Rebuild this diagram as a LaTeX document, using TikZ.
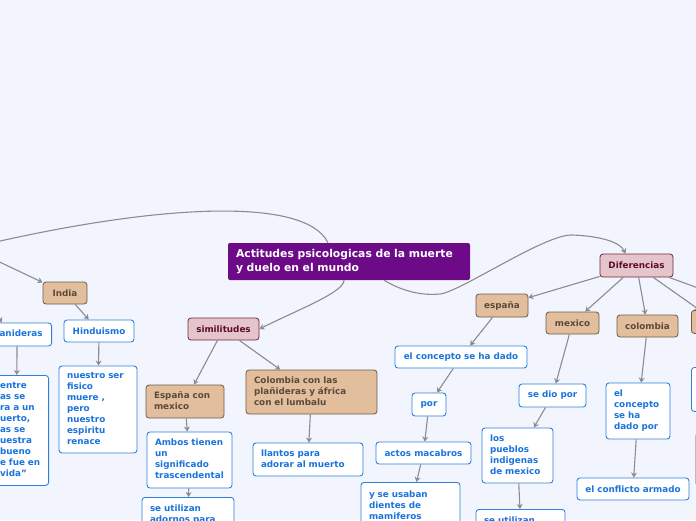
\documentclass[tikz,border=0pt]{standalone}
\usepackage{fontspec}
\setmainfont{DejaVu Sans}
\usetikzlibrary{arrows.meta,calc}
\definecolor{fondo}{HTML}{F2F5FE}
\definecolor{raiz}{HTML}{6C0A88}
\definecolor{rosa}{HTML}{E6C4CB}
\definecolor{rosaborde}{HTML}{6E2A3A}
\definecolor{rosatexto}{HTML}{5A0F24}
\definecolor{cafe}{HTML}{E2BE9D}
\definecolor{cafeborde}{HTML}{6B5A4A}
\definecolor{cafetexto}{HTML}{5A4A3B}
\definecolor{azul}{HTML}{2E80DE}
\definecolor{azultexto}{HTML}{1A74DC}
\definecolor{linea}{HTML}{8C8C8C}
\newcommand{\renglones}[1]{\begin{tabular}{@{}l@{}}#1\end{tabular}}

\begin{document}
\begin{tikzpicture}[x=1pt, y=-1pt,
  base/.style={rectangle, rounded corners=3pt, align=left, inner sep=0pt, font=\bfseries\fontsize{8.8}{11}\selectfont},
  tema/.style={base, fill=raiz, text=white, rounded corners=2pt, font=\bfseries\fontsize{10.8}{14}\selectfont},
  grupo/.style={base, draw=rosaborde, fill=rosa, text=rosatexto, line width=0.8pt},
  pais/.style={base, draw=cafeborde, fill=cafe, text=cafetexto, line width=0.8pt},
  hoja/.style={base, draw=azul, fill=white, text=azultexto, line width=0.9pt},
  izq/.style={text width=#1, inner xsep=8pt},
  conn/.style={draw=linea, line width=1.1pt, -{Stealth[length=5pt,width=6pt]}}]

\fill[fondo] (0,0) rectangle (696,520);
\useasboundingbox (0,0) rectangle (696,520);

\coordinate (otro) at (-30,248);
\coordinate (fuera) at (720,296);

\node[tema, izq=226pt, minimum height=37pt] (actitudes) at (349,261.5) {\renglones{Actitudes psicologicas de la muerte\\y duelo en el mundo}};

\node[grupo, minimum width=71pt, minimum height=22pt] (similitudes) at (223.5,329) {similitudes};
\node[grupo, minimum width=73pt, minimum height=23pt] (diferencias) at (636.5,265.5) {Diferencias};

\node[pais, minimum width=44pt, minimum height=22pt] (india) at (65,293) {India};
\node[hoja, minimum width=70pt, minimum height=22pt] (hinduismo) at (99,331) {Hinduismo};
\node[hoja, izq=62pt, minimum width=78pt, minimum height=87pt] (espiritu) at (98,409.5) {\renglones{nuestro ser\\fisico\\muere ,\\pero\\nuestro\\espiritu\\renace}};
\node[hoja, izq=44pt, minimum height=23pt, anchor=east] (planideras) at (52,334.5) {\renglones{anideras}};
\node[hoja, izq=40.5pt, minimum height=110pt, anchor=north east] (llanto) at (49,375) {\renglones{entre\\as se\\ra a un\\uerto,\\as se\\uestra\\bueno\\e fue en\\vida"}};

\node[pais, izq=62pt, minimum height=33pt] (espmex) at (185,401.5) {\renglones{España con\\mexico}};
\node[pais, izq=115pt, minimum height=44pt] (colafr) at (311.5,392) {\renglones{Colombia con las\\plañideras y áfrica\\con el lumbalu}};
\node[hoja, izq=69pt, minimum height=56pt] (ambos) at (189.5,460) {\renglones{Ambos tienen\\un\\significado\\trascendental}};
\node[hoja, izq=76pt, minimum height=35pt, anchor=north] (adornos) at (188,497) {\renglones{se utilizan\\adornos para}};
\node[hoja, izq=94pt, minimum height=33pt] (llantos) at (308,459.5) {\renglones{llantos para\\adorar al muerto}};

\node[pais, minimum width=52pt, minimum height=23pt] (espana) at (502,305.5) {españa};
\node[hoja, minimum width=132pt, minimum height=22pt] (concepto) at (461,357) {el concepto se ha dado};
\node[hoja, minimum width=34pt, minimum height=23pt] (por) at (429,404.5) {por};
\node[hoja, minimum width=95pt, minimum height=22pt] (macabros) at (423.5,453) {actos macabros};
\node[hoja, izq=83pt, minimum height=48pt, anchor=north] (dientes) at (410.5,482) {\renglones{y se usaban\\dientes de\\mamiferos}};

\node[pais, minimum width=53pt, minimum height=22pt] (mexico) at (572.5,323) {mexico};
\node[hoja, minimum width=67pt, minimum height=23pt] (diopor) at (552.5,395.5) {se dio por};
\node[hoja, izq=55pt, minimum height=55pt] (pueblos) at (517.5,455.5) {\renglones{los\\pueblos\\indigenas\\de mexico}};
\node[hoja, izq=73pt, minimum height=24pt, anchor=north] (utilizan) at (520.5,509) {\renglones{se utilizan}};

\node[pais, minimum width=61pt, minimum height=22pt] (colombia) at (647.5,326) {colombia};
\node[hoja, izq=48pt, minimum height=56pt] (conceptopor) at (638,411) {\renglones{el\\concepto\\se ha\\dado por}};
\node[hoja, minimum width=112pt, minimum height=22pt] (conflicto) at (633,489) {el conflicto armado};

\node[pais, minimum width=50pt, minimum height=23pt, anchor=north west] (derecha) at (691,310) {};
\node[hoja, minimum width=60pt, minimum height=44pt, anchor=north west] (derhoja) at (691,367) {};
\node[hoja, draw=linea!60, minimum width=60pt, minimum height=52pt, anchor=north west] (derhoja2) at (695,433) {};

\draw[conn] ($(actitudes.north)+(-21,0)$) .. controls (305,195) and (150,205) .. (otro);
\draw[conn] ($(actitudes.south)+(-5,0)$) .. controls +(0,12) and +(40,-20) .. (similitudes.east);
\draw[conn] ($(actitudes.south)+(35,0)$) .. controls (400,290) and (420,296) .. (440,294)
  .. controls (460,292) and (545,234) .. (572,235)
  .. controls (600,236) and (620,242) .. ($(diferencias.north)+(-11,0)$);

\draw[conn] (otro) -- (india);
\draw[conn] (otro) -- ([xshift=-20pt]planideras.north);
\draw[conn] (india) -- (hinduismo);
\draw[conn] (hinduismo) -- (espiritu);
\draw[conn] ([xshift=-4.5pt]planideras.south) -- ([xshift=-3.5pt]llanto.north);

\draw[conn] (similitudes) -- (espmex);
\draw[conn] (similitudes) -- (colafr);
\draw[conn] (espmex) -- (ambos);
\draw[conn] (ambos) -- (adornos);
\draw[conn] (colafr) -- (llantos);

\draw[conn] (diferencias) -- (espana);
\draw[conn] (espana) -- (concepto);
\draw[conn] (concepto) -- (por);
\draw[conn] (por) -- (macabros);
\draw[conn] (macabros) -- (dientes);

\draw[conn] (diferencias) -- (mexico);
\draw[conn] (mexico) -- (diopor);
\draw[conn] (diopor) -- (pueblos);
\draw[conn] (pueblos) -- (utilizan);

\draw[conn] (diferencias) -- (colombia);
\draw[conn] (colombia) -- (conceptopor);
\draw[conn] (conceptopor) -- (conflicto);

\draw[conn] (diferencias) -- (derecha);
\draw[conn] (diferencias) -- (fuera);
\end{tikzpicture}
\end{document}
